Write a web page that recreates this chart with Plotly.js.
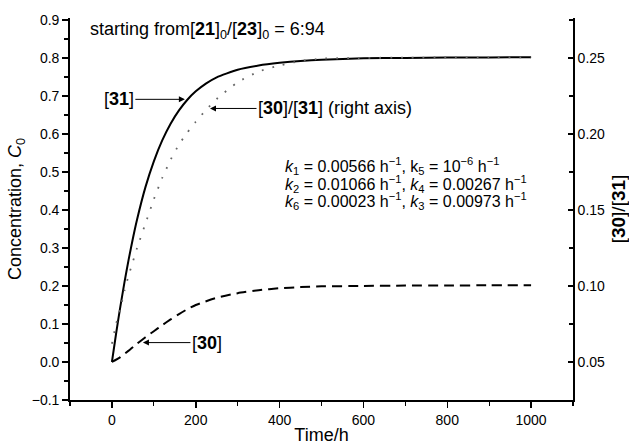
<!DOCTYPE html>
<html>
<head>
<meta charset="utf-8">
<script src="https://cdn.plot.ly/plotly-3.0.1.min.js"></script>
<style>
html,body{margin:0;padding:0;background:#fff;}
#chart{width:629px;height:445px;}
</style>
</head>
<body>
<div id="chart"></div>
<script>
// Time (h)
const time = [0,10,20,30,40,50,60,80,100,120,140,160,180,200,225,250,300,350,400,450,500,600,700,800,900,1000];
// [31] concentration (left axis), solid
const c31 = [0,0.075,0.145,0.21,0.27,0.325,0.375,0.46,0.528,0.583,0.627,0.662,0.69,0.712,0.733,0.749,0.769,0.780,0.787,0.792,0.795,0.799,0.800,0.801,0.801,0.802];
// [30] concentration (left axis), dashed
const timeC30 = [0,20,40,60,80,100,120,140,160,180,200,250,300,350,400,450,500,600,700,800,900,1000];
const c30 = [0,0.013,0.030,0.048,0.065,0.081,0.097,0.112,0.126,0.139,0.150,0.169,0.181,0.189,0.194,0.197,0.199,0.200,0.201,0.201,0.202,0.202];
// [30]/[31] ratio (right axis), dotted
const ratio = [0.062,0.075,0.085,0.097,0.107,0.116,0.125,0.141,0.157,0.171,0.183,0.193,0.201,0.208,0.216,0.223,0.234,0.241,0.245,0.248,0.2495,0.250,0.2502,0.2503,0.2503,0.2503];

const xTicks = [0,200,400,600,800,1000];
const FONT = '"Liberation Sans", Arial, Helvetica, sans-serif';

const traces = [
  {x: time, y: c31, type:'scatter', mode:'lines', line:{color:'#000', width:2, shape:'spline', smoothing:0.5}, yaxis:'y'},
  {x: timeC30, y: c30, type:'scatter', mode:'lines', line:{color:'#000', width:2, dash:'10px,6px', shape:'spline', smoothing:0.5}, yaxis:'y'},
  {x: time, y: ratio, type:'scatter', mode:'lines', line:{color:'#666', width:1.8, dash:'1.8px,9px', shape:'spline', smoothing:0.5}, yaxis:'y2'}
];

const annFont = {family: FONT, size: 18, color:'#000'};
const kFont = {family: FONT, size: 16, color:'#000'};

const layout = {
  width: 629, height: 445,
  margin: {l:70, r:56, t:18, b:45},
  paper_bgcolor:'#fff', plot_bgcolor:'#fff',
  showlegend:false,
  font:{family: FONT, size:14, color:'#000'},
  xaxis:{
    range:[-100,1100], tickvals: xTicks, ticktext: xTicks.map(String),
    ticks:'outside', ticklen:6, tickwidth:1.5, tickcolor:'#000',
    minor:{dtick:100, tick0:0, ticks:'outside', ticklen:4, tickwidth:1.2, tickcolor:'#000', showgrid:false},
    showline:true, linecolor:'#000', linewidth:1.8, showgrid:false, zeroline:false,
    tickfont:{size:14},
    title:{text:'Time/h', font:{size:18}, standoff:9}
  },
  yaxis:{
    range:[-0.1,0.905], dtick:0.1, tick0:0, tickformat:'.1f',
    ticks:'outside', ticklen:6, tickwidth:1.5, tickcolor:'#000',
    minor:{dtick:0.05, tick0:0, ticks:'outside', ticklen:4, tickwidth:1.2, tickcolor:'#000', showgrid:false},
    showline:true, linecolor:'#000', linewidth:1.8, showgrid:false, zeroline:false,
    tickfont:{size:14},
    title:{text:'Concentration, <i>C</i><sub>0</sub>', font:{size:18}, standoff:5}
  },
  yaxis2:{
    overlaying:'y', side:'right',
    range:[0.025,0.27625], dtick:0.05, tick0:0, tickformat:'.2f',
    ticks:'inside', ticklen:5, tickwidth:1.5, tickcolor:'#000',
    minor:{dtick:0.025, tick0:0, ticks:'inside', ticklen:4, tickwidth:1.2, tickcolor:'#000', showgrid:false},
    showline:true, linecolor:'#000', linewidth:1.8, showgrid:false, zeroline:false,
    tickfont:{size:14},
    title:{text:'[<b>30</b>]/[<b>31</b>]', font:{size:19}, standoff:8}
  },
  annotations:[
    {xref:'x', yref:'y', x:-58, y:0.871, xanchor:'left', yanchor:'middle', showarrow:false,
     text:'starting from[<b>21</b>]<sub>0</sub>/[<b>23</b>]<sub>0</sub> = 6:94', font:annFont},
    {xref:'x', yref:'y', x:174, y:0.691, ax:-66, ay:0, showarrow:true, arrowhead:2, arrowsize:1.2, arrowwidth:1, arrowcolor:'#000',
     text:'[<b>31</b>]', font:annFont},
    {xref:'x', yref:'y', x:234, y:0.667, ax:125, ay:0, showarrow:true, arrowhead:2, arrowsize:1.2, arrowwidth:1, arrowcolor:'#000',
     text:'[<b>30</b>]/[<b>31</b>] (right axis)', font:annFont},
    {xref:'x', yref:'y', x:74, y:0.051, ax:64, ay:0, showarrow:true, arrowhead:2, arrowsize:1.2, arrowwidth:1, arrowcolor:'#000',
     text:'[<b>30</b>]', font:annFont},
    {xref:'x', yref:'y', x:409, y:0.516, xanchor:'left', yanchor:'middle', showarrow:false, font:kFont,
     text:'<i>k</i><sub>1</sub> = 0.00566 h<sup>\u22121</sup>, k<sub>5</sub> = 10<sup>\u22126</sup> h<sup>\u22121</sup>'},
    {xref:'x', yref:'y', x:409, y:0.469, xanchor:'left', yanchor:'middle', showarrow:false, font:kFont,
     text:'<i>k</i><sub>2</sub> = 0.01066 h<sup>\u22121</sup>, <i>k</i><sub>4</sub> = 0.00267 h<sup>\u22121</sup>'},
    {xref:'x', yref:'y', x:409, y:0.424, xanchor:'left', yanchor:'middle', showarrow:false, font:kFont,
     text:'<i>k</i><sub>6</sub> = 0.00023 h<sup>\u22121</sup>, <i>k</i><sub>3</sub> = 0.00973 h<sup>\u22121</sup>'}
  ]
};

Plotly.newPlot('chart', traces, layout, {displayModeBar:false, staticPlot:true});
</script>
</body>
</html>
